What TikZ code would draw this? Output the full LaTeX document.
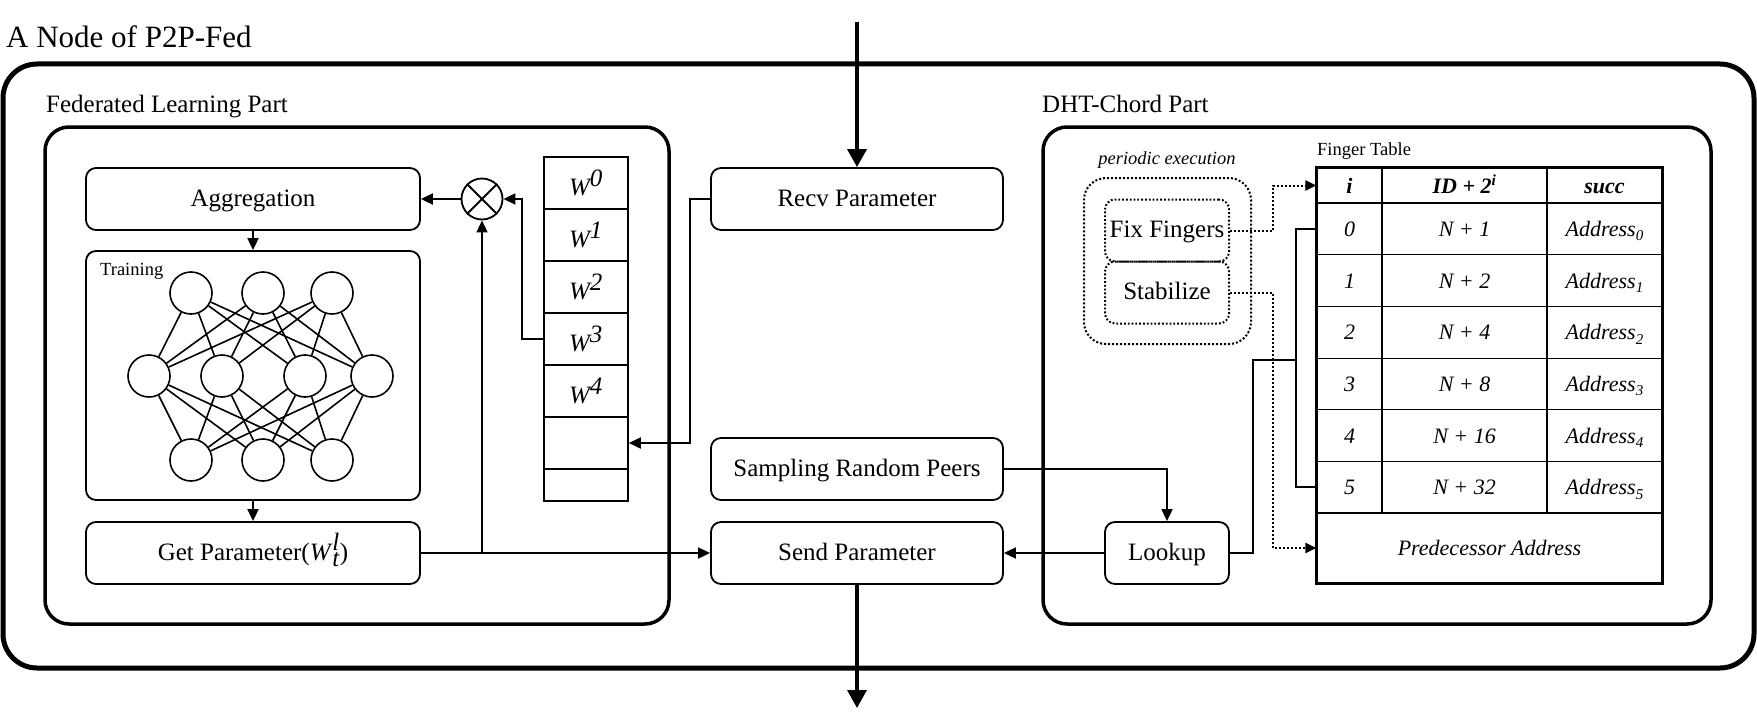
\documentclass[tikz,border=0pt]{standalone}
\usepackage{fontspec}
\setmainfont{Liberation Serif}
\usetikzlibrary{arrows.meta,positioning}

\newcommand{\mainsz}{\fontsize{25}{30}\selectfont}
\newcommand{\smallsz}{\fontsize{18.5}{22}\selectfont}
\newcommand{\tabsz}{\fontsize{22}{26}\selectfont}
\newcommand{\addrsub}[1]{\raisebox{-4.5pt}{\fontsize{15}{15}\selectfont\itshape #1}}

\begin{document}
\begin{tikzpicture}[x=1pt,y=-1pt,>={Triangle[length=12pt,width=11pt]}]
        \tikzstyle{every node}+=[inner sep=0pt]
        \tikzstyle{blk}=[draw, rounded corners=10pt, line width=1.8pt, minimum height=62pt, text height=18pt, text depth=4pt, font=\mainsz]
        \tikzstyle{dotblk}=[blk, dotted, line width=2pt]
        \tikzstyle{wcell}=[draw, line width=1.6pt, minimum width=84pt, minimum height=52pt, font=\mainsz\itshape]
        \tikzstyle{neuron}=[draw, circle, line width=1.6pt, minimum size=42pt]
        \tikzstyle{cell}=[draw, line width=1.2pt, minimum height=51.7pt, text height=19pt, text depth=4pt, font=\tabsz\itshape]
        \tikzstyle{wire}=[line width=1.8pt]
        \tikzstyle{bigwire}=[line width=3.5pt, -{Triangle[length=18pt,width=19pt]}]
        \useasboundingbox (0,0) rectangle (1757,725);
        % frames
        \node[font=\fontsize{31}{36}\selectfont, anchor=base west] (title) at (6,48) {A Node of P2P-Fed};
        \draw [line width=5pt, rounded corners=34pt] (3,64) rectangle (1754,668);
        \node[font=\mainsz, anchor=base west] (fllbl) at (46,113) {Federated Learning Part};
        \draw [line width=3.5pt, rounded corners=24pt] (45,127) rectangle (669,624);
        \node[font=\mainsz, anchor=base west] (dhtlbl) at (1042,113) {DHT-Chord Part};
        \draw [line width=3.5pt, rounded corners=24pt] (1043,127) rectangle (1711,624);
        % federated learning part
        \node[blk, minimum width=334pt] (agg) at (253,199) {Aggregation};
        \node[blk, minimum width=334pt, minimum height=249pt] (train) at (253,375.5) {};
        \node[font=\smallsz, anchor=west] (trainlbl) at (100,271) {Training};
        \node[blk, minimum width=334pt] (getp) at (253,553) {Get Parameter(\textit{W}$_{\textit{t}}^{\textit{l}}$)};
        \foreach \k/\xx in {1/191,2/263,3/332}
            \node[neuron] (t\k) at (\xx,293) {};
        \foreach \k/\xx in {1/149,2/222,3/305,4/372}
            \node[neuron] (m\k) at (\xx,376) {};
        \foreach \k/\xx in {1/191,2/263,3/332}
            \node[neuron] (b\k) at (\xx,460) {};
        \foreach \a in {1,2,3}
            \foreach \b in {1,...,4} {
                \draw [line width=1.6pt] (t\a) -- (m\b);
                \draw [line width=1.6pt] (b\a) -- (m\b);
            }
        \foreach \k in {0,...,4}
            \node[wcell] (w\k) at (586,{183+52*\k}) {W$^{\textit{\k}}$};
        \node[wcell] (w5) at (586,443) {};
        \node[wcell, minimum height=32pt] (w6) at (586,485) {};
        \node[draw, circle, line width=1.8pt, minimum size=41pt] (ot) at (482,199) {};
        \draw [line width=1.8pt] (ot.north west) -- (ot.south east) (ot.north east) -- (ot.south west);
        \draw [wire,->] (ot.west) -- (agg.east);
        \draw [wire,->] (w3.west) -- ++(-21,0) |- (ot.east);
        \draw [wire,->] (agg.south) -- (train.north);
        \draw [wire,->] (train.south) -- (getp.north);
        % middle column
        \node[blk, minimum width=292pt] (recv) at (857,199) {Recv Parameter};
        \node[blk, minimum width=292pt] (samp) at (857,469) {Sampling Random Peers};
        \node[blk, minimum width=292pt] (send) at (857,553) {Send Parameter};
        \coordinate (inp) at (857,22);
        \coordinate (outp) at (857,708);
        \draw [bigwire] (inp) -- (recv.north);
        \draw [bigwire] (send.south) -- (outp);
        \draw [wire,->] (recv.west) -- ++(-20,0) |- (w5.east);
        \draw [wire,->] (getp.east) -- (send.west);
        \draw [wire,->] (getp.east -| ot.south) -- (ot.south);
        % dht-chord part
        \node[draw, dotted, line width=2pt, rounded corners=22pt, minimum width=167pt, minimum height=166pt] (period) at (1167.5,261) {};
        \node[font=\smallsz\itshape] (perlbl) at (1167,160) {periodic execution};
        \node[dotblk, minimum width=124pt] (fix) at (1167,230.5) {Fix Fingers};
        \node[dotblk, minimum width=124pt] (stab) at (1167,292.5) {Stabilize};
        \node[blk, minimum width=124pt] (lookup) at (1167,553) {Lookup};
        \draw [wire,->] (samp.east) -| (lookup.north);
        \draw [wire,->] (lookup.west) -- (send.east);
        % finger table
        \node[font=\smallsz, anchor=base west] (ftlbl) at (1317,155) {Finger Table};
        \node[cell, minimum width=65pt, minimum height=35pt, font=\tabsz\bfseries\itshape] (thi) at (1349.5,185.5) {i};
        \node[cell, minimum width=165pt, minimum height=35pt, font=\tabsz\bfseries\itshape] (thid) at (1464.5,185.5) {ID + 2\textsuperscript{i}};
        \node[cell, minimum width=115pt, minimum height=35pt, font=\tabsz\bfseries\itshape] (thsu) at (1604.5,185.5) {succ};
        \foreach \k/\n in {0/1,1/2,2/4,3/8,4/16,5/32} {
            \node[cell, minimum width=65pt] (ti\k) at (1349.5,{228.85+51.7*\k}) {\k};
            \node[cell, minimum width=165pt] (tn\k) at (1464.5,{228.85+51.7*\k}) {N + \n};
            \node[cell, minimum width=115pt] (ta\k) at (1604.5,{228.85+51.7*\k}) {Address\addrsub{\k}};
        }
        \node[cell, minimum width=345pt, minimum height=70pt] (pred) at (1489.5,548) {Predecessor Address};
        \draw [line width=2.8pt] (thi.north west) rectangle (pred.south east);
        \draw [dotted, line width=2pt, -{Triangle[length=11pt,width=10pt]}] (fix.east) -- ++(43,0) |- (thi.west);
        \draw [dotted, line width=2pt, -{Triangle[length=11pt,width=10pt]}] (stab.east) -- ++(43,0) |- (pred.west);
        \coordinate (brk) at (1296,360);
        \draw [wire] (lookup.east) -- ++(23,0) |- (brk);
        \draw [wire] (ti0.west) -| (brk) |- (ti5.west);
\end{tikzpicture}
\end{document}
